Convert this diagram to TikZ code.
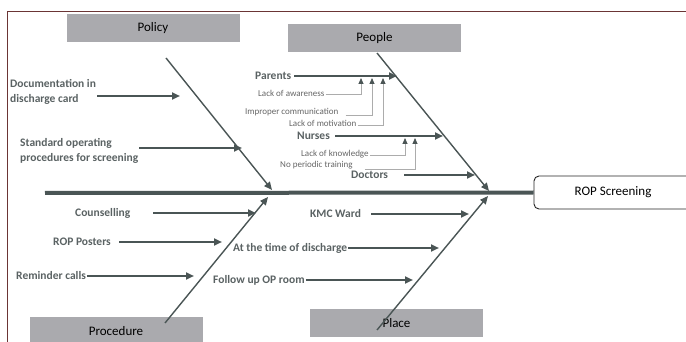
\documentclass[tikz,border=0pt]{standalone}
\usepackage{fontspec}
\setmainfont{Carlito}
\usepackage{xcolor}
\usepackage{tikz}
\usetikzlibrary{arrows.meta}
\definecolor{bonecol}{HTML}{4A5555}
\definecolor{labcol}{HTML}{5A6263}
\definecolor{subcol}{HTML}{666666}
\definecolor{catfill}{HTML}{AAAAAE}
\definecolor{framecol}{HTML}{6B3535}
\tikzset{
	catbox/.style={fill=catfill, minimum width=173pt, minimum height=28pt,
		inner sep=0pt, font=\fontsize{13}{15}\selectfont},
	cause/.style={font=\fontsize{11.5}{15}\selectfont\bfseries, text=labcol,
		inner sep=1pt, align=left},
	subcause/.style={font=\fontsize{9}{11}\selectfont, text=subcol, inner sep=1pt},
	spine/.style={line width=4pt, bonecol},
	bone/.style={-{Triangle[length=8pt,width=7pt]}, line width=1.4pt, bonecol},
	arr/.style={-{Triangle[length=8pt,width=7pt]}, line width=2pt, bonecol},
	tick/.style={-{Triangle[length=6pt,width=5pt,color=bonecol]}, line width=0.8pt, gray!65},
}

\begin{document}
\begin{tikzpicture}[x=1pt, y=-1pt]
		\useasboundingbox (0,0) rectangle (686,342);
		\fill[white] (0,0) rectangle (686,342);
		\draw[framecol, line width=0.8pt] (7,342) -- (7,11) -- (686,11);

		% category boxes and effect
		\node[catbox] (pol) at (153,28.5) {Policy};
		\node[catbox] (ppl) at (374.5,38) {People};
		\node[catbox, minimum height=29pt] (pro) at (116,331.5) {Procedure};
		\node[catbox] (plc) at (396.5,323) {Place};
		\node[draw=black!85, line width=0.9pt, fill=white, rounded corners=5pt, minimum width=158pt,
			minimum height=33pt, font=\fontsize{13}{15}\selectfont] (rop) at (613,192.5) {ROP Screening};

		\draw[spine] (45,193) -- (rop.west);

		% bones
		\coordinate (polTop) at (166,58);   \coordinate (polTip) at (272,190);
		\coordinate (pplTop) at (377,53);   \coordinate (pplTip) at (489,191);
		\coordinate (proTop) at (165,323);  \coordinate (proTip) at (268,197);
		\coordinate (plcTop) at (377,330);  \coordinate (plcTip) at (488,196);
		\draw[bone] (polTop) -- (polTip);
		\draw[bone] (pplTop) -- (pplTip);
		\draw[bone] (proTop) -- (proTip);
		\draw[bone] (plcTop) -- (plcTip);

		% policy
		\node[cause, anchor=west] (doc) at (9,92) {Documentation in\\discharge card};
		\node[cause, anchor=west] (sop) at (19,150.5) {Standard operating\\procedures for screening};
		\coordinate (docTip) at (180,96);
		\coordinate (sopTip) at (242,148);
		\draw[arr] (doc.east |- docTip) -- (docTip);
		\draw[arr] (sop.east |- sopTip) -- (sopTip);

		% people
		\node[cause, anchor=west] (par) at (254,76) {Parents};
		\node[cause, anchor=west] (nur) at (296,136) {Nurses};
		\node[cause, anchor=west] (dct) at (350,175) {Doctors};
		\coordinate (parTip) at (397,76);
		\coordinate (nurTip) at (443,136);
		\coordinate (dctTip) at (475,175);
		\draw[arr] ([xshift=2pt]par.east) -- (parTip);
		\draw[arr] ([xshift=4pt]nur.east) -- (nurTip);
		\draw[arr] ([xshift=15pt]dct.east) -- (dctTip);

		\node[subcause, anchor=west] (awr) at (257,93) {Lack of awareness};
		\node[subcause, anchor=west] (imp) at (244,112) {Improper communication};
		\node[subcause, anchor=west] (mot) at (288,123) {Lack of motivation};
		\node[subcause, anchor=west] (kno) at (300,154) {Lack of knowledge};
		\node[subcause, anchor=west] (trn) at (279,165) {No periodic training};
		\coordinate (awrTip) at (361,78);
		\coordinate (impTip) at (372,78);
		\coordinate (motTip) at (383,78);
		\coordinate (knoTip) at (405,138);
		\coordinate (trnTip) at (415,138);
		\draw[tick] ([yshift=-1pt]awr.east) -| (awrTip);
		\draw[tick] ([xshift=6pt,yshift=-3pt]imp.east) -| (impTip);
		\draw[tick] ([yshift=-2pt]mot.east) -| (motTip);
		\draw[tick] ([yshift=-1pt]kno.east) -| (knoTip);
		\draw[tick] ([xshift=11pt,yshift=-4pt]trn.east) -| (trnTip);

		% procedure
		\node[cause, anchor=west] (cns) at (74,213) {Counselling};
		\node[cause, anchor=west] (pst) at (52,242) {ROP Posters};
		\node[cause, anchor=west] (rem) at (15,276) {Reminder calls};
		\coordinate (cnsTip) at (256,213);
		\coordinate (pstTip) at (222,242);
		\coordinate (remTip) at (194,276);
		\draw[arr] ([xshift=22pt]cns.east) -- (cnsTip);
		\draw[arr] ([xshift=7pt]pst.east) -- (pstTip);
		\draw[arr] (rem.east) -- (remTip);

		% place
		\node[cause, anchor=west] (kmc) at (309,214) {KMC Ward};
		\node[cause, anchor=west] (atd) at (232,248) {At the time of discharge};
		\node[cause, anchor=west] (fop) at (212,280) {Follow up OP room};
		\coordinate (kmcTip) at (469,214);
		\coordinate (atdTip) at (439,248);
		\coordinate (fopTip) at (413,280);
		\draw[arr] ([xshift=9pt]kmc.east) -- (kmcTip);
		\draw[arr] (atd.east) -- (atdTip);
		\draw[arr] (fop.east) -- (fopTip);
	\end{tikzpicture}
\end{document}
